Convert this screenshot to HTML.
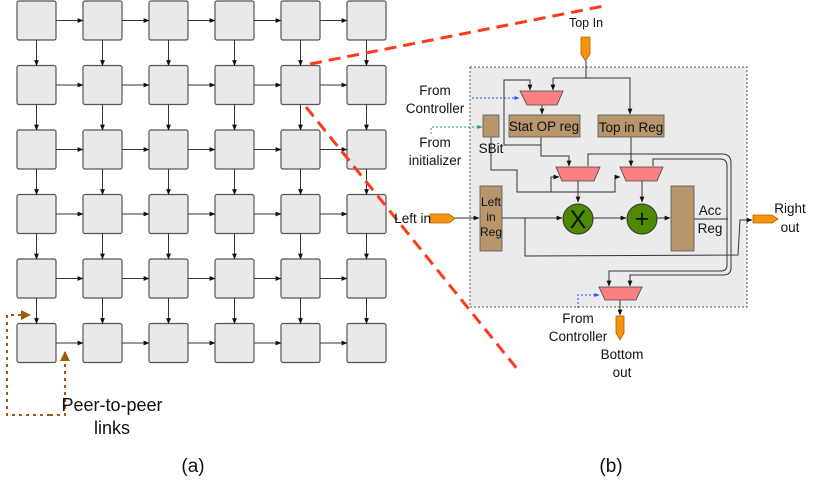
<!DOCTYPE html>
<html><head><style>
html,body{margin:0;padding:0;background:#fff;width:830px;height:482px;overflow:hidden}
text{font-family:"Liberation Sans",sans-serif;fill:#111}
</style></head><body>
<svg width="830" height="482" viewBox="0 0 830 482" xmlns="http://www.w3.org/2000/svg">
<defs>
<marker id="a" viewBox="0 0 10 10" refX="9" refY="5" markerWidth="6" markerHeight="6" orient="auto"><path d="M0,1L10,5L0,9z" fill="#111"/></marker>
<marker id="ab" viewBox="0 0 10 10" refX="9" refY="5" markerWidth="5" markerHeight="5" orient="auto"><path d="M0,1L10,5L0,9z" fill="#1e50ff"/></marker>
<marker id="ag" viewBox="0 0 10 10" refX="9" refY="5" markerWidth="5" markerHeight="5" orient="auto"><path d="M0,1L10,5L0,9z" fill="#20a060"/></marker>
<marker id="ao" viewBox="0 0 10 10" refX="9" refY="5" markerWidth="5" markerHeight="5" orient="auto"><path d="M0,0L10,5L0,10z" fill="#a05a10"/></marker>
<g id="hrow" stroke="#333" stroke-width="1">
<line x1="56" y1="0" x2="83" y2="0" marker-end="url(#a)"/>
<line x1="122" y1="0" x2="149" y2="0" marker-end="url(#a)"/>
<line x1="188" y1="0" x2="215" y2="0" marker-end="url(#a)"/>
<line x1="254" y1="0" x2="281" y2="0" marker-end="url(#a)"/>
<line x1="320" y1="0" x2="347" y2="0" marker-end="url(#a)"/>
</g>
<g id="vrow" stroke="#333" stroke-width="1">
<line x1="36.5" y1="0" x2="36.5" y2="25.5" marker-end="url(#a)"/>
<line x1="102.5" y1="0" x2="102.5" y2="25.5" marker-end="url(#a)"/>
<line x1="168.5" y1="0" x2="168.5" y2="25.5" marker-end="url(#a)"/>
<line x1="234.5" y1="0" x2="234.5" y2="25.5" marker-end="url(#a)"/>
<line x1="300.5" y1="0" x2="300.5" y2="25.5" marker-end="url(#a)"/>
<line x1="366.5" y1="0" x2="366.5" y2="25.5" marker-end="url(#a)"/>
</g>
</defs>
<g fill="#e9e9e9" stroke="#555" stroke-width="1.2">
<rect x="17" y="1" width="39" height="39" rx="2"/><rect x="83" y="1" width="39" height="39" rx="2"/><rect x="149" y="1" width="39" height="39" rx="2"/><rect x="215" y="1" width="39" height="39" rx="2"/><rect x="281" y="1" width="39" height="39" rx="2"/><rect x="347" y="1" width="39" height="39" rx="2"/>
<rect x="17" y="65.5" width="39" height="39" rx="2"/><rect x="83" y="65.5" width="39" height="39" rx="2"/><rect x="149" y="65.5" width="39" height="39" rx="2"/><rect x="215" y="65.5" width="39" height="39" rx="2"/><rect x="281" y="65.5" width="39" height="39" rx="2"/><rect x="347" y="65.5" width="39" height="39" rx="2"/>
<rect x="17" y="130" width="39" height="39" rx="2"/><rect x="83" y="130" width="39" height="39" rx="2"/><rect x="149" y="130" width="39" height="39" rx="2"/><rect x="215" y="130" width="39" height="39" rx="2"/><rect x="281" y="130" width="39" height="39" rx="2"/><rect x="347" y="130" width="39" height="39" rx="2"/>
<rect x="17" y="194.5" width="39" height="39" rx="2"/><rect x="83" y="194.5" width="39" height="39" rx="2"/><rect x="149" y="194.5" width="39" height="39" rx="2"/><rect x="215" y="194.5" width="39" height="39" rx="2"/><rect x="281" y="194.5" width="39" height="39" rx="2"/><rect x="347" y="194.5" width="39" height="39" rx="2"/>
<rect x="17" y="259" width="39" height="39" rx="2"/><rect x="83" y="259" width="39" height="39" rx="2"/><rect x="149" y="259" width="39" height="39" rx="2"/><rect x="215" y="259" width="39" height="39" rx="2"/><rect x="281" y="259" width="39" height="39" rx="2"/><rect x="347" y="259" width="39" height="39" rx="2"/>
<rect x="17" y="323.5" width="39" height="39" rx="2"/><rect x="83" y="323.5" width="39" height="39" rx="2"/><rect x="149" y="323.5" width="39" height="39" rx="2"/><rect x="215" y="323.5" width="39" height="39" rx="2"/><rect x="281" y="323.5" width="39" height="39" rx="2"/><rect x="347" y="323.5" width="39" height="39" rx="2"/>
</g>
<use href="#hrow" transform="translate(0,20.5)"/>
<use href="#hrow" transform="translate(0,85)"/>
<use href="#hrow" transform="translate(0,149.5)"/>
<use href="#hrow" transform="translate(0,214)"/>
<use href="#hrow" transform="translate(0,278.5)"/>
<use href="#hrow" transform="translate(0,343)"/>
<use href="#vrow" transform="translate(0,40)"/>
<use href="#vrow" transform="translate(0,104.5)"/>
<use href="#vrow" transform="translate(0,169)"/>
<use href="#vrow" transform="translate(0,233.5)"/>
<use href="#vrow" transform="translate(0,298)"/>
<!-- peer links -->
<g stroke="#a05a10" stroke-width="2" fill="none" stroke-dasharray="3,4">
<path d="M50,415H7V315H30" marker-end="url(#ao)"/>
<path d="M50,415H65V352" marker-end="url(#ao)"/>
</g>
<text x="112" y="411" font-size="18" text-anchor="middle">Peer-to-peer</text>
<text x="112" y="434" font-size="18" text-anchor="middle">links</text>
<text x="193" y="472" font-size="19" text-anchor="middle">(a)</text>
<text x="611" y="472" font-size="19" text-anchor="middle">(b)</text>
<g stroke="#ff3a1a" stroke-width="3" stroke-dasharray="12,7" fill="none">
<path d="M310,64L604,6"/>
<path d="M306,107L518,370"/>
</g>
<rect x="470" y="67" width="277" height="240" fill="#ebebeb" stroke="#555" stroke-dasharray="2,2"/>
<text x="586" y="27" font-size="12.5" text-anchor="middle">Top In</text>
<path d="M581,37H590V54L585.5,61L581,54Z" fill="#f7930e" stroke="#b06000" stroke-width="0.8"/>
<g stroke="#333" stroke-width="1" fill="none">
<path d="M586,61V78"/>
<path d="M553,78H630V114" marker-end="url(#a)"/>
<path d="M553,78V90" marker-end="url(#a)"/>
<path d="M541,145H504V80H530V90" marker-end="url(#a)"/>
<path d="M542,105V114" marker-end="url(#a)"/>
<path d="M541,137V156H569V166" marker-end="url(#a)"/>
<path d="M631,137V166" marker-end="url(#a)"/>
<path d="M491,137V170H517V192H615V177H620" marker-end="url(#a)"/>
<path d="M551,192V177H559" marker-end="url(#a)"/>
<path d="M578,181V202" marker-end="url(#a)"/>
<path d="M642,181V202" marker-end="url(#a)"/>
<path d="M455,218H479" marker-end="url(#a)"/>
<path d="M502,218H562" marker-end="url(#a)"/>
<path d="M593,218H626" marker-end="url(#a)"/>
<path d="M657,218H670" marker-end="url(#a)"/>
<path d="M694,219H728"/>
<path d="M525,218V256L738,255L740,220H752" marker-end="url(#a)"/>
<path d="M588,166V154H722Q731,154 731,163V268Q731,275 723,275H630V286" marker-end="url(#a)"/>
<path d="M653,166V159H720Q727,159 727,166V265Q727,271 721,271H609V286" marker-end="url(#a)"/>
<path d="M620,300V315" marker-end="url(#a)"/>
</g>
<path d="M472,98H519" stroke="#1e50ff" stroke-dasharray="2,2" marker-end="url(#ab)"/>
<path d="M431,134V127H482" stroke="#20a060" stroke-dasharray="2,2" marker-end="url(#ag)" fill="none"/>
<path d="M578,308V295H599" stroke="#1e50ff" stroke-dasharray="2,2" marker-end="url(#ab)" fill="none"/>
<g fill="#f88080" stroke="#444" stroke-width="0.8">
<path d="M520,91H563L557,105H527Z"/>
<path d="M556,167H600L594,181H562Z"/>
<path d="M620,167H663L657,181H626Z"/>
<path d="M599,287H642L636,300H605Z"/>
</g>
<g fill="#b8956a" stroke="#555" stroke-width="0.8">
<rect x="509" y="115" width="71" height="22"/>
<rect x="598" y="115" width="66" height="22"/>
<rect x="483" y="115" width="16" height="22"/>
<rect x="480" y="186" width="22" height="65"/>
<rect x="671" y="186" width="23" height="65"/>
</g>
<circle cx="578" cy="219" r="15" fill="#4d8a00" stroke="#333"/>
<circle cx="642" cy="219" r="15" fill="#4d8a00" stroke="#333"/>
<text x="578" y="228" font-size="25" text-anchor="middle">X</text>
<text x="642" y="227" font-size="25" text-anchor="middle">+</text>
<path d="M430,214H449L455,218.5L449,223H430Z" fill="#f7930e" stroke="#b06000" stroke-width="0.8"/>
<path d="M753,215H772L778,219L772,223H753Z" fill="#f7930e" stroke="#b06000" stroke-width="0.8"/>
<path d="M616,316H624V333L620,340L616,333Z" fill="#f7930e" stroke="#b06000" stroke-width="0.8"/>
<g font-size="13.5">
<text x="544" y="131" text-anchor="middle">Stat OP reg</text>
<text x="631" y="132" text-anchor="middle">Top in Reg</text>
<text x="491" y="153" text-anchor="middle">SBit</text>
<text x="491" y="206" text-anchor="middle" font-size="12">Left</text>
<text x="491" y="221" text-anchor="middle" font-size="12">in</text>
<text x="491" y="236" text-anchor="middle" font-size="12">Reg</text>
<text x="710" y="215" text-anchor="middle">Acc</text>
<text x="710" y="233" text-anchor="middle">Reg</text>
<text x="435" y="95" text-anchor="middle">From</text>
<text x="435" y="113" text-anchor="middle">Controller</text>
<text x="435" y="147" text-anchor="middle">From</text>
<text x="435" y="165" text-anchor="middle">initializer</text>
<text x="431" y="223" text-anchor="end">Left in</text>
<text x="790" y="213" text-anchor="middle">Right</text>
<text x="790" y="232" text-anchor="middle">out</text>
<text x="578" y="323" text-anchor="middle">From</text>
<text x="578" y="341" text-anchor="middle">Controller</text>
<text x="622" y="359" text-anchor="middle">Bottom</text>
<text x="622" y="377" text-anchor="middle">out</text>
</g>
</svg>
</body></html>
